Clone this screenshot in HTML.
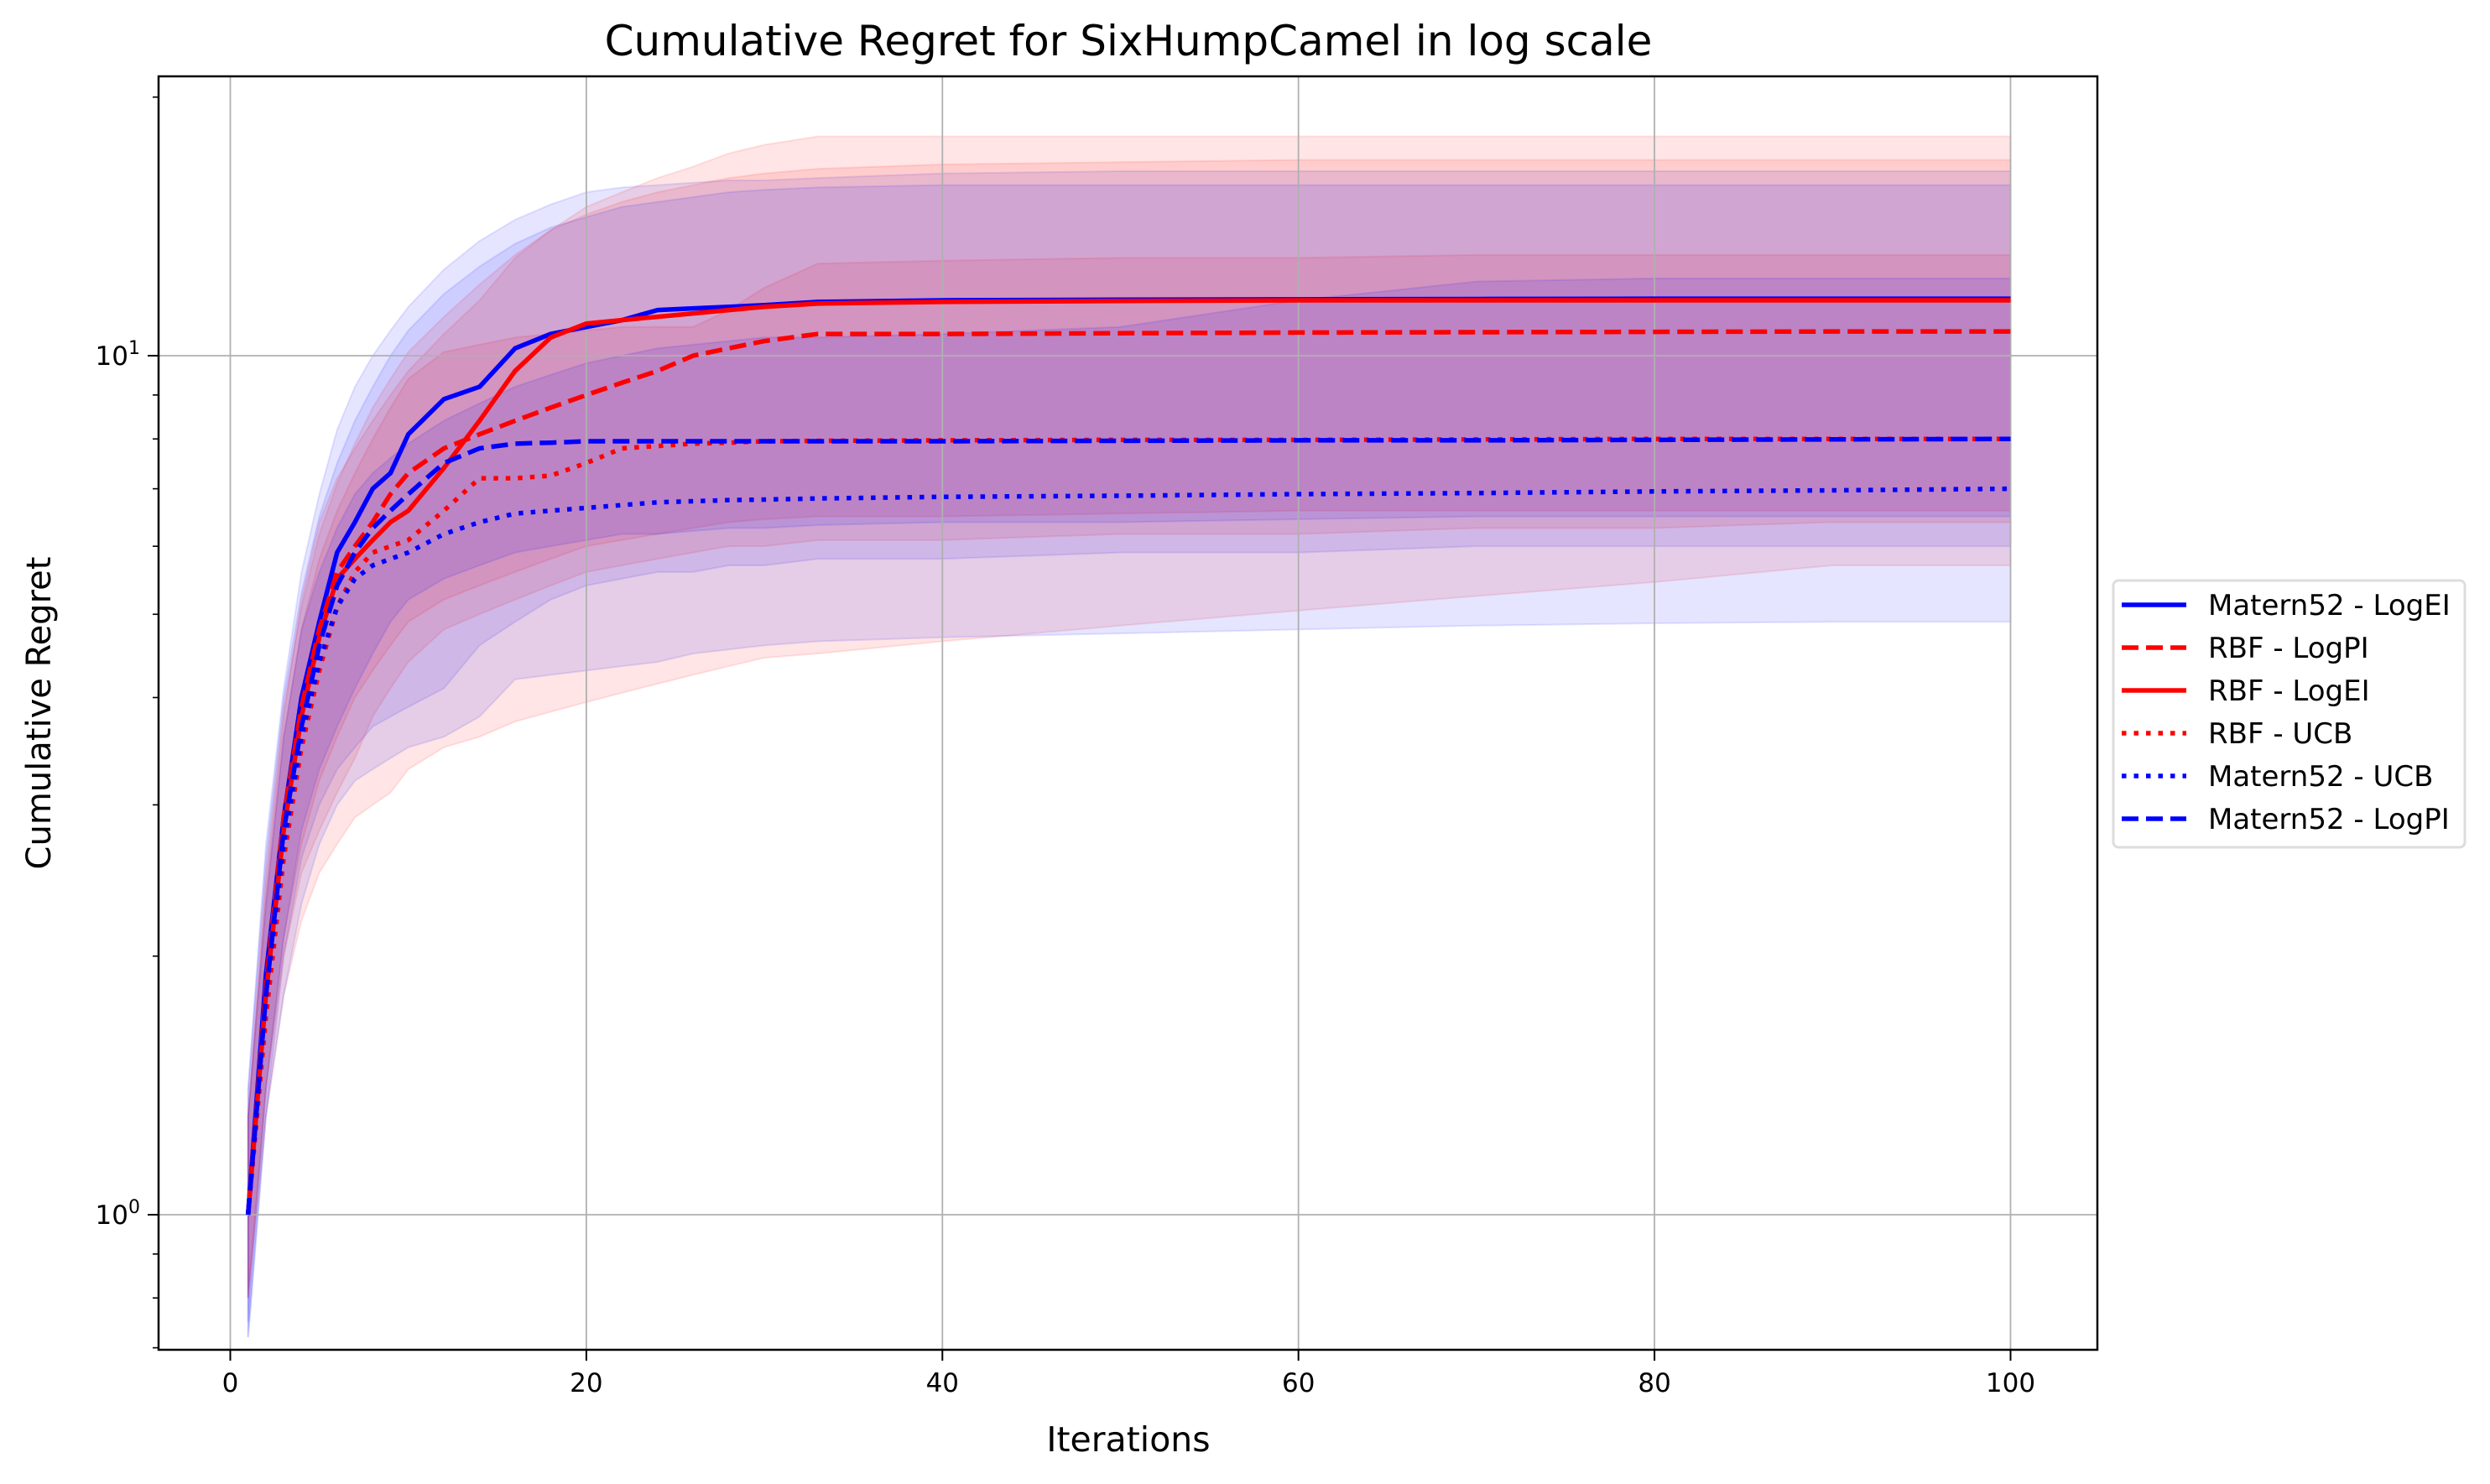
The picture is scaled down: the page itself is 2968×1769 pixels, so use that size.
<!DOCTYPE html>
<html><head><meta charset="utf-8"><style>
html,body{margin:0;padding:0;background:#fff}
svg{display:block;font-family:"DejaVu Sans","Liberation Sans",sans-serif}
</style></head><body>
<svg id="chart" width="2968" height="1769" viewBox="0 0 2968 1769" xmlns="http://www.w3.org/2000/svg">
<rect width="2968" height="1769" fill="#fff"/>
<g id="bands"></g>
<g id="grid"></g>
<g id="lines"></g>
<g id="axes"></g>
<text x="1345" y="66" font-size="50" text-anchor="middle">Cumulative Regret for SixHumpCamel in log scale</text>
<text x="1345" y="1730" font-size="41" text-anchor="middle">Iterations</text>
<text x="60" y="850" font-size="40" text-anchor="middle" transform="rotate(-90 60 850)">Cumulative Regret</text>
<g id="legend"></g>
</svg>
<script>
const xs = [1,2,3,4,5,6,7,8,9,10,12,14,16,18,20,22,24,26,28,30,33,40,50,60,70,80,90,100];
const xTicks = [0,20,40,60,80,100];
const yMajor = [1,10];
const yMinor = [0.7,0.8,0.9,2,3,4,5,6,7,8,9,20];
const names = ["Matern52 - LogEI","RBF - LogPI","RBF - LogEI","RBF - UCB","Matern52 - UCB","Matern52 - LogPI"];
const mLogEI = [1,1.9,2.9,4.0,4.9,5.9,6.4,7.0,7.3,8.1,8.9,9.2,10.2,10.6,10.8,11.0,11.3,11.35,11.4,11.45,11.55,11.6,11.62,11.63,11.64,11.65,11.65,11.65];
const mLogEIUp = [1.4,2.7,4.1,5.6,6.9,8.2,9.2,10.0,10.7,11.4,12.6,13.6,14.4,15.0,15.5,15.7,15.8,15.9,16.0,16.0,16.1,16.3,16.4,16.4,16.4,16.4,16.4,16.4];
const mLogEILo = [0.72,1.3,2.0,2.6,3.0,3.3,3.5,3.7,3.8,3.9,4.1,4.6,4.9,5.2,5.4,5.5,5.6,5.6,5.7,5.7,5.8,5.8,5.9,5.9,6.0,6.0,6.0,6.0];
const rLogPI = [1,1.85,2.9,3.9,4.8,5.6,6.0,6.4,6.9,7.3,7.8,8.1,8.4,8.7,9.0,9.3,9.6,10.0,10.2,10.4,10.6,10.6,10.62,10.64,10.65,10.66,10.67,10.67];
const rLogPIUp = [1.3,2.5,3.9,5.1,6.2,7.1,7.9,8.7,9.4,10.1,11.1,12.1,13.1,14.0,14.6,15.1,15.5,15.8,16.1,16.3,16.5,16.7,16.8,16.9,16.9,16.9,16.9,16.9];
const rLogPILo = [0.8,1.4,2.1,2.7,3.2,3.6,4.0,4.3,4.6,4.9,5.2,5.4,5.6,5.8,6.0,6.1,6.2,6.3,6.4,6.45,6.5,6.5,6.55,6.6,6.6,6.6,6.6,6.6];
const rLogEI = [1,1.8,2.8,3.8,4.7,5.5,5.8,6.1,6.4,6.6,7.4,8.4,9.6,10.5,10.9,11.0,11.1,11.2,11.3,11.4,11.5,11.55,11.58,11.6,11.6,11.6,11.6,11.6];
const rLogEIUp = [1.3,2.4,3.8,5.2,6.4,7.2,7.8,8.4,9.0,9.6,10.6,11.6,13.0,14.0,14.9,15.5,16.1,16.6,17.2,17.6,18.0,18.0,18.0,18.0,18.0,18.0,18.0,18.0];
const rLogEILo = [0.8,1.4,2.0,2.5,2.8,3.1,3.4,3.8,4.1,4.4,4.8,5.0,5.2,5.4,5.6,5.7,5.8,5.9,6.0,6.0,6.1,6.1,6.2,6.2,6.3,6.3,6.4,6.4];
const rUCB = [1,1.7,2.6,3.5,4.3,5.1,5.6,5.9,6.0,6.1,6.6,7.2,7.2,7.25,7.5,7.8,7.85,7.9,7.92,7.95,7.96,7.97,7.98,7.98,7.99,8.0,8.0,8.0];
const rUCBUp = [1.3,2.3,3.6,4.8,5.8,6.6,7.3,8.0,8.7,9.4,10.1,10.3,10.5,10.6,10.7,10.8,10.8,10.8,11.3,12.0,12.8,12.9,13.0,13.0,13.1,13.1,13.1,13.1];
const rUCBLo = [0.8,1.3,1.8,2.2,2.5,2.7,2.9,3.0,3.1,3.3,3.5,3.6,3.75,3.85,3.95,4.05,4.15,4.25,4.35,4.45,4.5,4.65,4.85,5.05,5.25,5.45,5.7,5.7];
const mUCB = [1,1.8,2.7,3.6,4.4,5.1,5.5,5.7,5.8,5.9,6.2,6.4,6.55,6.6,6.65,6.7,6.75,6.77,6.79,6.8,6.82,6.85,6.87,6.9,6.92,6.95,6.97,7.0];
const mUCBUp = [1.3,2.3,3.6,4.8,5.6,6.3,6.9,7.3,7.6,7.9,8.4,8.8,9.2,9.5,9.8,10.0,10.2,10.3,10.4,10.5,10.5,10.6,10.8,11.6,12.2,12.3,12.3,12.3];
const mUCBLo = [0.72,1.3,1.8,2.3,2.7,3.0,3.2,3.3,3.4,3.5,3.6,3.8,4.2,4.25,4.3,4.35,4.4,4.5,4.55,4.6,4.65,4.7,4.75,4.8,4.85,4.88,4.9,4.9];
const mLogPI = [1,1.8,2.8,3.7,4.6,5.4,5.9,6.3,6.6,6.9,7.5,7.8,7.9,7.92,7.95,7.95,7.95,7.95,7.95,7.95,7.95,7.95,7.96,7.97,7.97,7.98,7.99,8.0];
const mLogPIUp = [1.4,2.6,4.0,5.3,6.5,7.5,8.4,9.2,10.0,10.7,11.8,12.7,13.5,14.1,14.5,14.9,15.1,15.3,15.5,15.6,15.7,15.8,15.8,15.8,15.8,15.8,15.8,15.8];
const mLogPILo = [0.75,1.4,2.1,2.8,3.3,3.7,4.1,4.5,4.9,5.2,5.5,5.7,5.9,6.0,6.1,6.2,6.2,6.25,6.3,6.3,6.35,6.4,6.4,6.45,6.5,6.5,6.5,6.5];

const NS="http://www.w3.org/2000/svg";
const L=189,R=2500,T=91,B=1609;
const X=v=>274.5+v*21.22;
const Y=v=>1448-Math.log10(v)*1024;
function mk(tag,attrs,parent){const e=document.createElementNS(NS,tag);for(const k in attrs)e.setAttribute(k,attrs[k]);parent.appendChild(e);return e;}
const series=[
 {m:mLogEI,u:mLogEIUp,l:mLogEILo,c:"#0000ff",d:"none"},
 {m:rLogPI,u:rLogPIUp,l:rLogPILo,c:"#ff0000",d:"20,9"},
 {m:rLogEI,u:rLogEIUp,l:rLogEILo,c:"#ff0000",d:"none"},
 {m:rUCB,u:rUCBUp,l:rUCBLo,c:"#ff0000",d:"5.5,9"},
 {m:mUCB,u:mUCBUp,l:mUCBLo,c:"#0000ff",d:"5.5,9"},
 {m:mLogPI,u:mLogPIUp,l:mLogPILo,c:"#0000ff",d:"20,9"}];
const bands=document.getElementById('bands'),lines=document.getElementById('lines'),grid=document.getElementById('grid'),axes=document.getElementById('axes'),leg=document.getElementById('legend');
series.forEach((s,i)=>{
 let p=xs.map((x,j)=>X(x)+","+Y(s.u[j])).join(" ")+" "+xs.map((x,j)=>X(x)+","+Y(s.l[j])).reverse().join(" ");
 const b=mk('polygon',{points:p,fill:s.c,'fill-opacity':0.1,stroke:s.c,'stroke-opacity':0.1,'stroke-width':2},bands);
 
 
});
xTicks.forEach(t=>{mk('line',{x1:X(t),x2:X(t),y1:T,y2:B,stroke:'#b0b0b0','stroke-width':1.8},grid);});
yMajor.forEach(t=>{mk('line',{x1:L,x2:R,y1:Y(t),y2:Y(t),stroke:'#b0b0b0','stroke-width':1.8},grid);});
series.forEach((s,i)=>{
 const pl=mk('polyline',{points:xs.map((x,j)=>X(x)+","+Y(s.m[j])).join(" "),fill:'none',stroke:s.c,'stroke-width':5.5,'stroke-dasharray':s.d,'stroke-linejoin':'round'},lines);
 
 
});
mk('rect',{x:L,y:T,width:R-L,height:B-T,fill:'none',stroke:'#000','stroke-width':2.5},axes);
xTicks.forEach(t=>{mk('line',{x1:X(t),x2:X(t),y1:B,y2:B+13,stroke:'#000','stroke-width':2},axes);
 const tx=mk('text',{x:X(t),y:B+50,'font-size':31,'text-anchor':'middle'},axes);tx.textContent=t;
 
 });
yMajor.forEach((t,i)=>{mk('line',{x1:L-13,x2:L,y1:Y(t),y2:Y(t),stroke:'#000','stroke-width':2},axes);
 const tx=mk('text',{x:L-22,y:Y(t)+11,'font-size':31,'text-anchor':'end'},axes);
 tx.innerHTML='10<tspan dy="-13" font-size="22">'+i+'</tspan>';
 
 });
yMinor.forEach(t=>{mk('line',{x1:L-7,x2:L,y1:Y(t),y2:Y(t),stroke:'#000','stroke-width':1.6},axes);});
mk('rect',{x:2519,y:692,width:419,height:318,rx:6,fill:'#fff','fill-opacity':0.8,stroke:'#ddd','stroke-width':3},leg);
series.forEach((s,i)=>{const y=721+i*51;
 mk('line',{x1:2529,x2:2606,y1:y,y2:y,stroke:s.c,'stroke-width':5.5,'stroke-dasharray':s.d},leg);
 const tx=mk('text',{x:2632,y:y+12,'font-size':34},leg);tx.textContent=names[i];
 
 });
</script>
</body></html>
